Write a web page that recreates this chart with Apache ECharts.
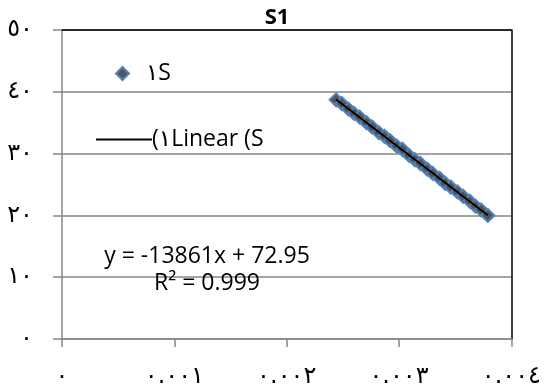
<!DOCTYPE html>
<html><head><meta charset="utf-8">
<script src="https://cdn.jsdelivr.net/npm/echarts@6/dist/echarts.min.js"></script>
<style>html,body{margin:0;padding:0;background:#fff}#c{width:544px;height:390px}</style>
</head><body><div id="c"></div>
<script>
const chartTitle = 'S1';
const seriesName = '١S';
const trendName = '(١Linear (S';
const equationText = 'y = -13861x + 72.95';
const r2Text = 'R² = 0.999';
const xValues = [0.00244, 0.00249, 0.00255, 0.00260, 0.00265, 0.00271, 0.00276, 0.00282, 0.00287, 0.00292, 0.00298, 0.00303, 0.00309,
                 0.00314, 0.00319, 0.00325, 0.00330, 0.00336, 0.00341, 0.00346, 0.00352, 0.00357, 0.00363, 0.00368, 0.00373, 0.00379];
const yValues = [38.7, 38.1, 37.2, 36.5, 35.9, 35.0, 34.3, 33.4, 32.8, 32.1, 31.2, 30.7, 29.7,
                 29.0, 28.4, 27.5, 26.8, 26.0, 25.2, 24.6, 23.8, 23.1, 22.3, 21.5, 20.9, 20.0];
const xTickLabels = ['٠', '٠.٠٠١', '٠.٠٠٢', '٠.٠٠٣', '٠.٠٠٤'];
const yTickLabels = ['٠', '١٠', '٢٠', '٣٠', '٤٠', '٥٠'];

const FONT = '"Open Sans", "DejaVu Sans", sans-serif';
const AR_FONT = '"DejaVu Sans", sans-serif';

const pts = xValues.map((x, i) => [x, yValues[i]]);
// least-squares trendline from the data
const n = xValues.length;
const mx = xValues.reduce((a, b) => a + b, 0) / n;
const my = yValues.reduce((a, b) => a + b, 0) / n;
let sxy = 0, sxx = 0;
for (let i = 0; i < n; i++) { sxy += (xValues[i] - mx) * (yValues[i] - my); sxx += (xValues[i] - mx) ** 2; }
const slope = sxy / sxx, icpt = my - slope * mx;
const xMin = Math.min(...xValues), xMax = Math.max(...xValues);
const trend = [[xMin, icpt + slope * xMin], [xMax, icpt + slope * xMax]];

const chart = echarts.init(document.getElementById('c'), null, { renderer: 'canvas' });
const gray = '#868686';
chart.setOption({
  animation: false,
  backgroundColor: '#fff',
  title: [
    { text: chartTitle, left: 272, top: 2, textAlign: 'center',
      textStyle: { fontFamily: FONT, fontSize: 22, fontWeight: 'bold', color: '#000' } },
    { text: equationText + '\n' + r2Text, left: 202, top: 238, textAlign: 'center',
      textStyle: { fontFamily: FONT, fontSize: 23, fontWeight: 'normal', color: '#000', lineHeight: 27 } }
  ],
  legend: [
    { data: [seriesName], left: 115, top: 62, padding: 0, itemWidth: 13, itemHeight: 13,
      textStyle: { fontFamily: FONT, fontSize: 23, color: '#000', padding: [0, 0, 0, 12] } },
    { data: [{ name: trendName, icon: 'rect' }], left: 96, top: 128, padding: 0, itemWidth: 56, itemHeight: 2,
      itemStyle: { color: '#000', borderWidth: 0 },
      textStyle: { fontFamily: FONT, fontSize: 23, color: '#000', padding: [0, 0, 0, -5] } }
  ],
  grid: { left: 62, right: 30, top: 30, bottom: 51, containLabel: false },
  xAxis: [
    { type: 'value', min: 0, max: 0.004, interval: 0.001,
      axisLine: { show: true, onZero: false, lineStyle: { color: gray, width: 1.5 } },
      axisTick: { show: true, length: 8, lineStyle: { color: gray, width: 1.5 } },
      splitLine: { show: false },
      axisLabel: { margin: 26, fontFamily: AR_FONT, fontSize: 24, color: '#000',
        formatter: v => xTickLabels[Math.round(v / 0.001)] } },
    { type: 'value', position: 'top', min: 0, max: 0.004, interval: 0.001,
      axisLine: { show: true, onZero: false, lineStyle: { color: '#000', width: 1.5 } },
      axisTick: { show: false }, axisLabel: { show: false }, splitLine: { show: false } }
  ],
  yAxis: [
    { type: 'value', min: 0, max: 50, interval: 10,
      axisLine: { show: true, onZero: false, lineStyle: { color: gray, width: 1.5 } },
      axisTick: { show: true, length: 9, lineStyle: { color: gray, width: 1.5 } },
      splitLine: { show: true, lineStyle: { color: gray, width: 1.5 } },
      axisLabel: { margin: 29, fontFamily: AR_FONT, fontSize: 24, color: '#000',
        formatter: v => yTickLabels[Math.round(v / 10)] } },
    { type: 'value', position: 'right', min: 0, max: 50, interval: 10,
      axisLine: { show: true, onZero: false, lineStyle: { color: '#000', width: 1.5 } },
      axisTick: { show: false }, axisLabel: { show: false }, splitLine: { show: false } }
  ],
  series: [
    { name: seriesName, type: 'scatter', data: pts, symbol: 'diamond', symbolSize: 13, z: 2,
      itemStyle: { color: '#555555', borderColor: '#4F81BD', borderWidth: 2, opacity: 1 } },
    { name: trendName, type: 'line', data: trend, symbol: 'none', z: 3,
      itemStyle: { color: '#000' },
      lineStyle: { color: '#000', width: 2 } }
  ]
});
</script></body></html>
